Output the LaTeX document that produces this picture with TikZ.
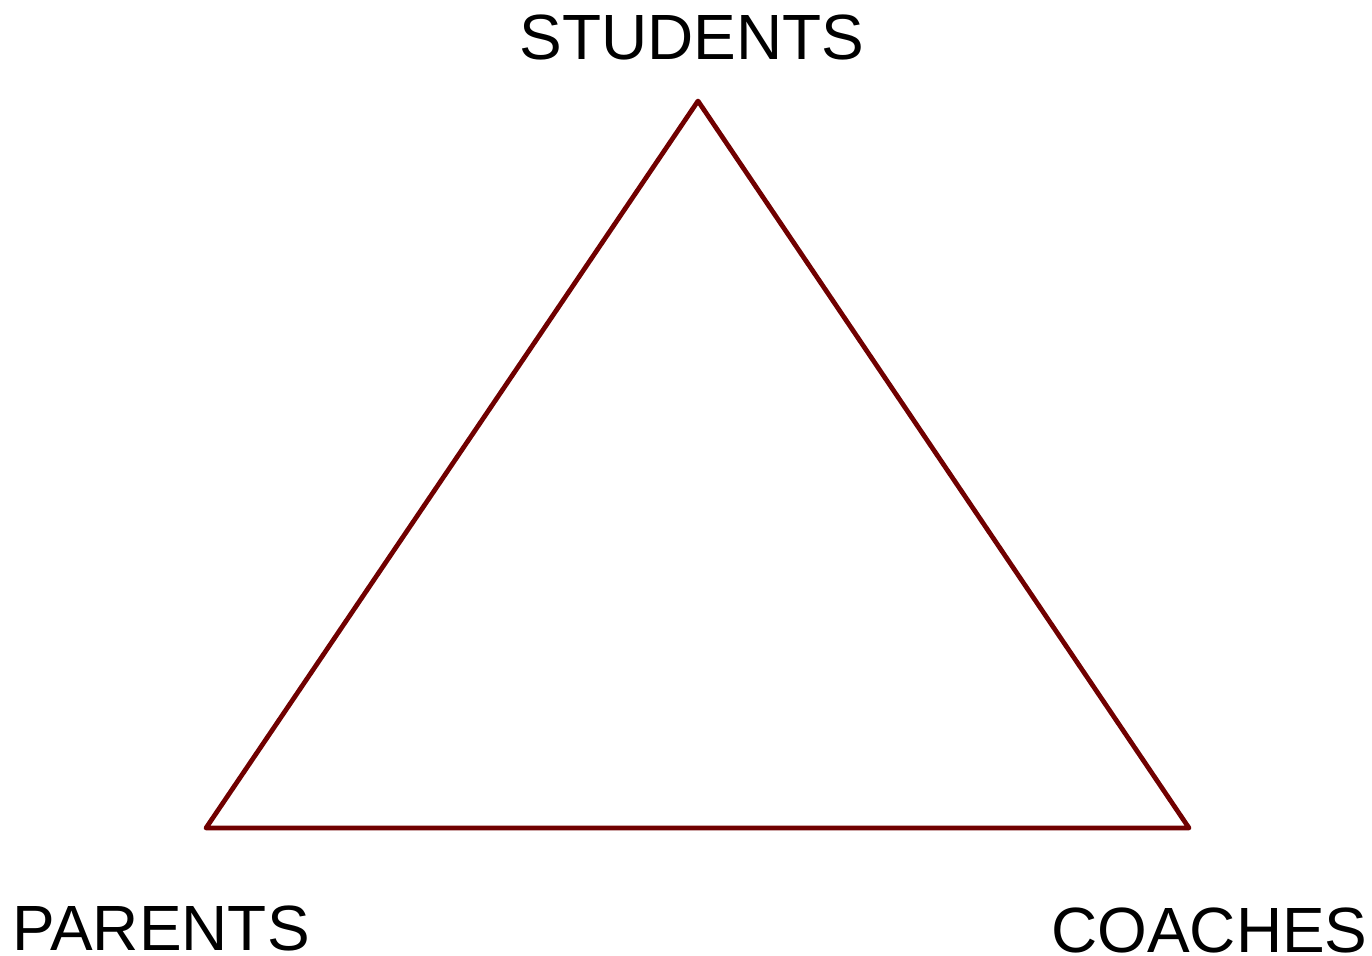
\documentclass[tikz,border=0pt]{standalone}
\usepackage{fontspec}
\setmainfont{Liberation Sans}
\definecolor{maroonline}{RGB}{112,0,0}
\begin{document}
\begin{tikzpicture}[
    x=0.02cm, y=-0.02cm,
    side/.style={draw=maroonline, line width=0.095cm, line join=round},
    lbl/.style={font=\fontsize{36.4}{40}\selectfont, text=black, inner sep=0pt}
]
\useasboundingbox (0,0) rectangle (1372,956);

% Triangle Corners
\coordinate (apexs) at (698,101);
\coordinate (apexp) at (206,828);
\coordinate (apexc) at (1189,828);

% Triangle Sides
\draw[side] (apexs) -- (apexp) -- (apexc) -- cycle;

% Corner Labels
\node[lbl, anchor=base] (students) at (692,60) {STUDENTS};
\node[lbl, anchor=base west] (parents) at (12,950) {PARENTS};
\node[lbl, anchor=base east] (coaches) at (1368,952) {COACHES};

\end{tikzpicture}
\end{document}
